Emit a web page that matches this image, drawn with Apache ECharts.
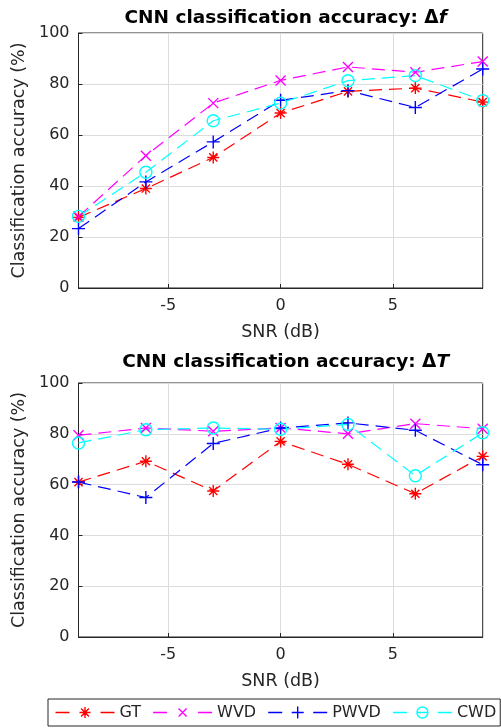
<!DOCTYPE html>
<html>
<head>
<meta charset="utf-8">
<script src="https://cdn.jsdelivr.net/npm/echarts@6/dist/echarts.min.js"></script>
<style>
html,body{margin:0;padding:0;background:#fff;}
#c{width:501px;height:728px;}
</style>
</head>
<body>
<div id="c"></div>
<script>
// ---- data ----
const snr = [-9, -6, -3, 0, 3, 6, 9];
const seriesNames = ['GT', 'WVD', 'PWVD', 'CWD'];
// top chart: Δf
const dfGT   = [27.7, 39.0, 51.2, 68.6, 77.1, 78.4, 72.9];
const dfWVD  = [28.0, 51.9, 72.5, 81.4, 86.7, 84.6, 88.8];
const dfPWVD = [23.3, 41.6, 57.3, 73.6, 77.4, 70.8, 85.9];
const dfCWD  = [28.1, 45.4, 65.6, 72.5, 81.3, 83.3, 73.5];
// bottom chart: ΔT
const dtGT   = [61.0, 69.2, 57.5, 77.0, 68.0, 56.4, 71.1];
const dtWVD  = [79.4, 82.3, 81.0, 82.3, 80.0, 84.0, 82.0];
const dtPWVD = [61.0, 54.9, 76.2, 82.3, 84.3, 81.4, 67.8];
const dtCWD  = [76.4, 81.6, 82.3, 81.8, 83.7, 63.5, 80.4];
const xTicks = [-5, 0, 5];

// ---- styles ----
const FONT = 'DejaVu Sans';
const AX = '#262626';
const colors = {GT: '#ff0000', WVD: '#ff00ff', PWVD: '#0000ff', CWD: '#00ffff'};
const symbols = {
  GT: 'path://M5,0L5,10M0,5L10,5M1.6,1.6L8.4,8.4M1.6,8.4L8.4,1.6',
  WVD: 'path://M0,0L10,10M0,10L10,0',
  PWVD: 'path://M5,0L5,10M0,5L10,5',
  CWD: 'circle'
};
const symSize = {GT: 12, WVD: 10, PWVD: 13, CWD: 12};

// legend icons: dash - marker - dash, drawn in a 59 x 12 box
const LBOX = 'M0,0L0.01,0M0,12L0.01,12M58.99,0L59,0M58.99,12L59,12';
const LDASH = 'M0,6L14,6M45,6L59,6';
const legendIcons = {
  GT: 'path://' + LBOX + LDASH + 'M29.5,0.5L29.5,11.5M24,6L35,6M25.6,2.1L33.4,9.9M25.6,9.9L33.4,2.1',
  WVD: 'path://' + LBOX + LDASH + 'M25.5,2L33.5,10M25.5,10L33.5,2',
  PWVD: 'path://' + LBOX + LDASH + 'M29.5,0L29.5,12M23.5,6L35.5,6',
  CWD: 'path://' + LBOX + LDASH + 'M35,6A5.5,5.5,0,1,1,24,6A5.5,5.5,0,1,1,35,6M24,6L35,6'
};

const chart = echarts.init(document.getElementById('c'), null, {renderer: 'canvas'});

const grids = [
  {left: 78.5, right: 18.3, top: 33, height: 255},
  {left: 78.5, right: 18.3, top: 383, height: 254}
];

function xAxis(i) {
  return {
    type: 'value', gridIndex: i, min: -9, max: 9,
    name: 'SNR (dB)', nameLocation: 'middle', nameGap: 35,
    nameTextStyle: {fontFamily: FONT, fontSize: 17.5, color: AX},
    axisLine: {show: true, onZero: false, lineStyle: {color: AX, width: 1}},
    axisTick: {show: true, inside: true, length: 4, customValues: xTicks, lineStyle: {color: AX}},
    axisLabel: {customValues: xTicks, fontFamily: FONT, fontSize: 16, color: AX, margin: 10},
    splitLine: {show: true, lineStyle: {color: '#dcdcdc', width: 1}}
  };
}
function yAxis(i) {
  return {
    type: 'value', gridIndex: i, min: 0, max: 100, interval: 20,
    name: 'Classification accuracy (%)', nameLocation: 'middle', nameGap: 42,
    nameTextStyle: {fontFamily: FONT, fontSize: 17.5, color: AX},
    axisLine: {show: true, onZero: false, lineStyle: {color: AX, width: 1}},
    axisTick: {show: true, inside: true, length: 4, lineStyle: {color: AX}},
    axisLabel: {fontFamily: FONT, fontSize: 16, color: AX, margin: 9},
    splitLine: {show: true, lineStyle: {color: '#dcdcdc', width: 1}}
  };
}

const topData = {GT: dfGT, WVD: dfWVD, PWVD: dfPWVD, CWD: dfCWD};
const botData = {GT: dtGT, WVD: dtWVD, PWVD: dtPWVD, CWD: dtCWD};

function mkSeries(name, vals, i) {
  return {
    name: name, type: 'line', xAxisIndex: i, yAxisIndex: i,
    data: snr.map((x, k) => [x, vals[k]]),
    symbol: symbols[name], symbolSize: symSize[name], showAllSymbol: true,
    lineStyle: {color: colors[name], width: 1.2, type: [13, 7]},
    itemStyle: {color: 'none', borderColor: colors[name], borderWidth: 1.4},
    emphasis: {disabled: true},
    animation: false
  };
}

const series = [];
seriesNames.forEach(n => series.push(mkSeries(n, topData[n], 0)));
seriesNames.forEach(n => series.push(mkSeries(n, botData[n], 1)));

const titleStyle = {fontFamily: FONT, fontSize: 18.5, fontWeight: 'bold', color: '#000',
  rich: {i: {fontFamily: FONT, fontSize: 18.5, fontWeight: 'bold', fontStyle: 'italic', color: '#000'}}};

chart.setOption({
  animation: false,
  backgroundColor: '#fff',
  title: [
    {text: 'CNN classification accuracy: Δ{i|f}', left: 280.6, textAlign: 'center', top: 4, textStyle: titleStyle},
    {text: 'CNN classification accuracy: Δ{i|T}', left: 280.6, textAlign: 'center', top: 348, textStyle: titleStyle}
  ],
  grid: grids.map(g => Object.assign({show: true, borderColor: AX, borderWidth: 1, backgroundColor: '#fff'}, g)),
  xAxis: [xAxis(0), xAxis(1)],
  yAxis: [yAxis(0), yAxis(1)],
  legend: {
    left: 48, top: 699, width: 480,
    orient: 'horizontal',
    itemWidth: 59, itemHeight: 12, itemGap: 9.5,
    padding: [5, 4, 5, 5],
    borderColor: AX, borderWidth: 1, backgroundColor: '#fff',
    selectedMode: false,
    textStyle: {fontFamily: FONT, fontSize: 16, color: AX},
    data: seriesNames.map(n => ({
      name: n,
      icon: legendIcons[n],
      itemStyle: {color: 'none', borderColor: colors[n], borderWidth: 1.4}
    }))
  },
  series: series
});
</script>
</body>
</html>
